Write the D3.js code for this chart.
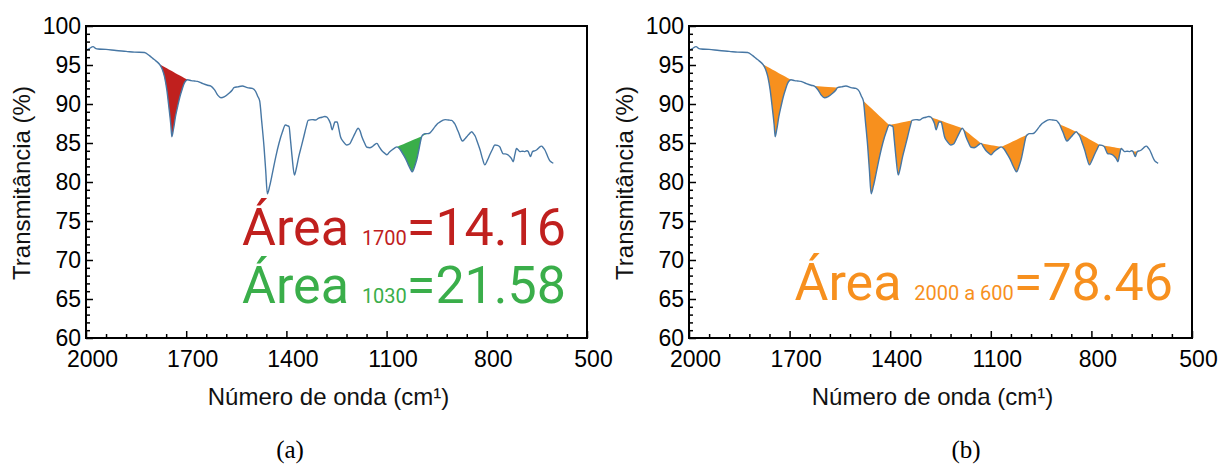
<!DOCTYPE html>
<html>
<head>
<meta charset="utf-8">
<script src="https://cdn.jsdelivr.net/npm/d3@7"></script>
<style>
  html, body { margin: 0; padding: 0; background: #fff; }
  svg { display: block; }
</style>
</head>
<body>
<svg id="chart" width="1221" height="465"></svg>
<script>
// ---- data ----
const wavenumber = [2000,1990,1979,1970,1964,1940,1910,1880,1855,1825,1810,1800,1790,1780,1772,1765,1758,1752,1746,1743,1738,1732,1725,1719,1712,1706,1700,1696,1685,1676,1666,1650,1636,1626,1615,1605,1596,1585,1571,1562,1557,1545,1532,1517,1502,1492,1486,1480,1474,1467,1462,1457,1450,1442,1432,1422,1412,1403,1396,1392,1388,1383,1376,1370,1363,1355,1348,1340,1335,1323,1313,1303,1293,1285,1278,1272,1268,1263,1258,1255,1248,1243,1238,1230,1219,1210,1204,1195,1185,1180,1174,1166,1159,1150,1144,1136,1129,1122,1114,1106,1099,1092,1084,1076,1069,1060,1050,1042,1035,1028,1023,1016,1010,1003,995,990,985,977,970,962,955,947,940,932,925,915,905,900,895,889,883,878,873,866,860,852,845,840,835,828,820,813,806,798,791,783,776,768,761,756,751,745,738,732,726,721,716,711,706,701,693,686,680,676,672,669,666,663,657,651,644,636,631,626,618,611,605,601];
const transmittance = [96.9,97.1,97.35,97.1,97.05,97.0,96.85,96.75,96.65,96.6,96.2,95.85,95.5,95.1,94.5,93.5,91.8,89.65,87.3,85.8,86.8,88.4,89.8,90.9,91.9,92.65,93.0,93.1,93.0,92.95,92.9,92.6,92.4,92.3,91.8,91.1,90.8,90.95,91.4,91.8,92.1,92.2,92.3,92.1,92.0,91.6,91.0,90.4,87.8,84.5,81.5,78.5,79.5,81.1,83.2,85.0,86.4,87.3,87.2,87.1,85.5,83.25,80.9,81.8,83.25,84.6,85.8,87.2,87.9,88.0,87.95,88.2,88.3,88.4,88.3,87.9,87.5,86.7,87.3,87.7,87.7,86.8,85.8,85.2,84.75,84.9,85.4,86.2,86.9,86.6,85.8,85.0,84.45,84.4,84.5,84.8,84.95,84.5,84.0,83.7,83.5,83.8,84.1,84.35,84.5,84.2,83.5,82.9,82.2,81.6,81.3,82.0,82.8,84.2,85.8,86.1,86.2,86.2,86.3,86.7,87.1,87.5,87.7,87.9,88.0,87.95,87.9,87.7,87.4,86.8,86.2,85.6,85.25,85.5,85.8,86.2,86.45,86.2,85.9,85.1,84.1,83.0,82.2,82.8,83.5,84.2,84.75,84.7,84.5,84.0,83.6,83.6,83.5,83.3,83.0,82.6,83.5,84.3,84.1,83.9,83.95,83.9,84.0,83.9,83.5,83.25,83.6,83.9,84.0,84.1,84.4,84.6,84.4,84.1,83.3,82.7,82.5,82.4];

const xTickValues = [2000, 1700, 1400, 1100, 800, 500];
const yTickValues = [60, 65, 70, 75, 80, 85, 90, 95, 100];

// integrated bands: [start, end] wavenumbers of the baseline chord
const bandsA = [[1780, 1696], [1069, 977]];
const bandColorsA = ["#c0201e", "#3aae4a"];
const bandsB = [[1780, 1696], [1626, 1557], [1480, 1403], [1403, 1335], [1278, 1185], [1185, 1129], [1129, 1069], [1069, 985], [895, 845], [845, 776], [776, 711], [676, 663]];
const bandColorB = "#f7901e";

// annotation texts
const labelsA = [
  { main: "Área ", sub: "1700", value: "=14.16", color: "#c0201e" },
  { main: "Área ", sub: "1030", value: "=21.58", color: "#3aae4a" }
];
const labelsB = [
  { main: "Área ", sub: "2000 a 600", value: "=78.46", color: "#f7901e" }
];

const yTitle = "Transmitância (%)";
const xTitle = "Número de onda (cm¹)";
const panelTags = ["(a)", "(b)"];

// ---- drawing ----
const svg = d3.select("#chart");
const data = wavenumber.map((w, i) => ({ w: w, t: transmittance[i] }));
const lineColor = "#4777a4";
const axisFont = "'Liberation Sans', Arial, sans-serif";
const annFont = "Roboto, 'Noto Sans', sans-serif";

function tAt(w) {
  const i = wavenumber.indexOf(w);
  return transmittance[i];
}

function drawPanel(opts) {
  const { left, right, top, bottom, bands, colors, labels, labelX, labelBaselines, tag, tagX } = opts;
  const g = svg.append("g");
  const x = d3.scaleLinear().domain([2000, 500]).range([left, right]);
  const y = d3.scaleLinear().domain([60, 100]).range([bottom, top]);

  // filled bands
  bands.forEach((b, k) => {
    const [a, c] = b;
    const ta = tAt(a), tc = tAt(c);
    const chord = d3.scaleLinear().domain([a, c]).range([ta, tc]);
    const seg = data.filter(d => d.w <= a && d.w >= c);
    const area = d3.area()
      .x(d => x(d.w))
      .y0(d => y(chord(d.w)))
      .y1(d => y(d.t));
    g.append("path").datum(seg)
      .attr("d", area)
      .attr("fill", colors[k] || colors[0])
      .attr("stroke", "none");
  });

  // spectrum line
  const line = d3.line().x(d => x(d.w)).y(d => y(d.t)).curve(d3.curveMonotoneX);
  g.append("path").datum(data)
    .attr("d", line)
    .attr("fill", "none")
    .attr("stroke", lineColor)
    .attr("stroke-width", 1.4)
    .attr("stroke-linejoin", "round");

  // minor ticks
  const xMinor = d3.range(2000, 499, -60).filter(v => !xTickValues.includes(v));
  const yMinor = d3.range(60, 100.01, 1).filter(v => v % 5 !== 0);

  const xAxisMinor = d3.axisBottom(x).tickValues(xMinor).tickSize(-4).tickFormat("");
  const xAxisMajor = d3.axisBottom(x).tickValues(xTickValues).tickSize(-7).tickPadding(13).tickFormat(d3.format("d"));
  const yAxisMinor = d3.axisLeft(y).tickValues(yMinor).tickSize(-4).tickFormat("");
  const yAxisMajor = d3.axisLeft(y).tickValues(yTickValues).tickSize(-7).tickPadding(5).tickFormat(d3.format("d"));

  [xAxisMinor, xAxisMajor].forEach(ax => {
    const ga = g.append("g").attr("transform", `translate(0,${bottom})`).call(ax);
    ga.select(".domain").remove();
    ga.selectAll("line").attr("stroke", "#000").attr("stroke-width", 1.5);
    ga.selectAll("text").attr("font-family", axisFont).attr("font-size", 23).attr("fill", "#000").attr("dx", 6);
  });
  [yAxisMinor, yAxisMajor].forEach(ax => {
    const ga = g.append("g").attr("transform", `translate(${left},0)`).call(ax);
    ga.select(".domain").remove();
    ga.selectAll("line").attr("stroke", "#000").attr("stroke-width", 1.5);
    ga.selectAll("text").attr("font-family", axisFont).attr("font-size", 23).attr("fill", "#000");
  });

  // frame
  g.append("rect")
    .attr("x", left).attr("y", top)
    .attr("width", right - left).attr("height", bottom - top)
    .attr("fill", "none").attr("stroke", "#000").attr("stroke-width", 2);

  // axis titles
  g.append("text")
    .attr("transform", `translate(${left - 56},${(top + bottom) / 2 + 1}) rotate(-90)`)
    .attr("text-anchor", "middle")
    .attr("font-family", axisFont).attr("font-size", 24).attr("fill", "#111")
    .text(yTitle);
  g.append("text")
    .attr("x", (left + right) / 2 - 8).attr("y", 405)
    .attr("text-anchor", "middle")
    .attr("font-family", axisFont).attr("font-size", 24).attr("fill", "#111")
    .text(xTitle);

  // annotation
  labels.forEach((L, k) => {
    const t = g.append("text")
      .attr("x", labelX).attr("y", labelBaselines[k])
      .attr("text-anchor", "end")
      .attr("font-family", annFont)
      .attr("fill", L.color);
    t.append("tspan").attr("font-size", 52).text(L.main);
    t.append("tspan").attr("font-size", 20).text(L.sub);
    t.append("tspan").attr("font-size", 52).text(L.value);
  });

  // panel tag
  g.append("text")
    .attr("x", tagX).attr("y", 458)
    .attr("text-anchor", "middle")
    .attr("font-family", "'Liberation Serif', 'Times New Roman', serif")
    .attr("font-size", 25).attr("fill", "#000")
    .text(tag);
}

drawPanel({
  left: 86, right: 587, top: 26, bottom: 338,
  bands: bandsA, colors: bandColorsA,
  labels: labelsA, labelX: 566, labelBaselines: [245, 303],
  tag: panelTags[0], tagX: 290
});
drawPanel({
  left: 689, right: 1192, top: 26, bottom: 338,
  bands: bandsB, colors: [bandColorB],
  labels: labelsB, labelX: 1173, labelBaselines: [300],
  tag: panelTags[1], tagX: 966
});
</script>
</body>
</html>
